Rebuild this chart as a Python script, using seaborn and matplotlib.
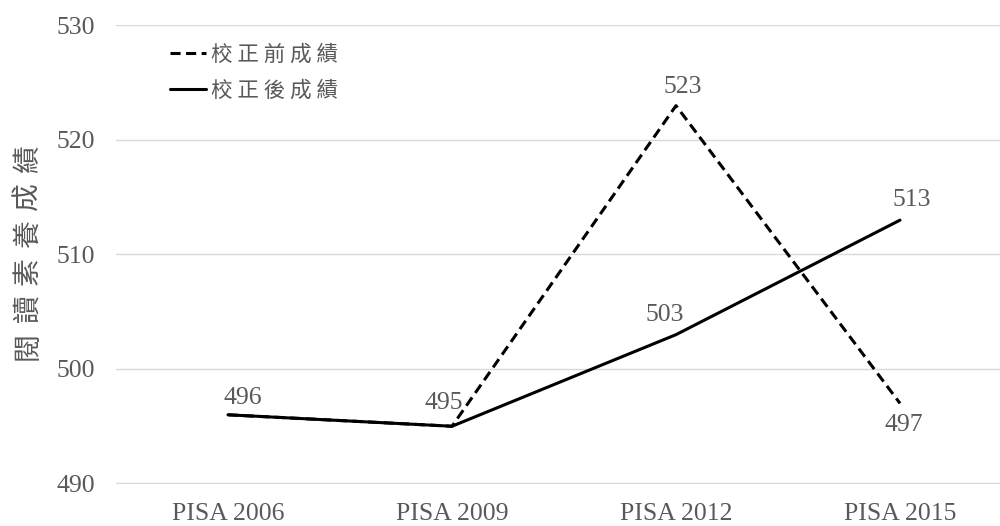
import matplotlib
matplotlib.use("Agg")
import matplotlib.pyplot as plt
import seaborn as sns
import pandas as pd
from matplotlib.lines import Line2D

categories = ["PISA 2006", "PISA 2009", "PISA 2012", "PISA 2015"]
before = [496, 495, 523, 497]
after = [496, 495, 503, 513]
series_names = ["校正前成績", "校正後成績"]
yticks = [490, 500, 510, 520, 530]
ylabel = "閱讀素養成績"

sns.set_theme(style="white")
plt.rcParams['font.family'] = ['Liberation Serif', 'Noto Sans CJK TC', 'DejaVu Sans']

txt = "#595959"
df = pd.DataFrame({
    "x": list(range(len(categories))) * 2,
    "score": before + after,
    "series": [series_names[0]] * 4 + [series_names[1]] * 4,
})

W, H = 1000, 526
fig = plt.figure(figsize=(W / 100, H / 100), dpi=100)
ax = fig.add_axes([0.116, 42.5 / H, 0.896, 458 / H])

dash = (3.3, 1.8)
sns.lineplot(data=df, x="x", y="score", hue="series", style="series",
             palette=["black", "black"], dashes={series_names[0]: dash, series_names[1]: ""},
             linewidth=2.2, ax=ax, legend=False, sort=False)

ax.set_xlim(-0.5, 3.5)
ax.set_ylim(490, 530)
ax.set_yticks(yticks)
ax.set_xticks(range(len(categories)))
ax.set_xticklabels(categories)
ax.grid(axis="y", color="#d9d9d9", linewidth=1)
ax.grid(axis="x", visible=False)
for s in ["top", "right", "left", "bottom"]:
    ax.spines[s].set_visible(False)
ax.tick_params(axis="both", length=0, labelsize=18.5, labelcolor=txt)
ax.tick_params(axis="y", pad=15)
ax.tick_params(axis="x", pad=14)
ax.set_xlabel("")
ax.set_ylabel("")

# y-axis title, one glyph at a time for letter spacing
y0, pitch = 346, 37.4
for i, ch in enumerate(ylabel):
    fig.text(28 / W, 1 - (y0 - i * pitch) / H, ch, rotation=90, ha="center", va="center",
             fontsize=20, color=txt, family=['Noto Sans CJK TC'])

# data labels (offsets in pixels)
lab = dict(fontsize=18.5, color=txt, ha="center", va="center", textcoords="offset pixels")
ax.annotate(str(before[0]), (0, before[0]), xytext=(15, 17), **lab)
ax.annotate(str(before[1]), (1, before[1]), xytext=(-8, 23), **lab)
ax.annotate(str(before[2]), (2, before[2]), xytext=(7, 19), **lab)
ax.annotate(str(before[3]), (3, before[3]), xytext=(4, -22), **lab)
ax.annotate(str(after[2]), (2, after[2]), xytext=(-11, 20), **lab)
ax.annotate(str(after[3]), (3, after[3]), xytext=(12, 20), **lab)

handles = [Line2D([], [], color="black", lw=2.2, dashes=dash),
           Line2D([], [], color="black", lw=2.2)]
spaced = [" ".join(s) for s in series_names]
leg = ax.legend(handles, spaced, loc="upper left",
                bbox_to_anchor=((170 - 116) / 896, (483.5 - 44) / 458),
                frameon=False, handlelength=1.65, handletextpad=0.25, labelspacing=0.63,
                borderpad=0, borderaxespad=0,
                prop={'family': ['Noto Sans CJK TC'], 'size': 15.5})
for t in leg.get_texts():
    t.set_color(txt)

fig.savefig("out.png", dpi=100)
